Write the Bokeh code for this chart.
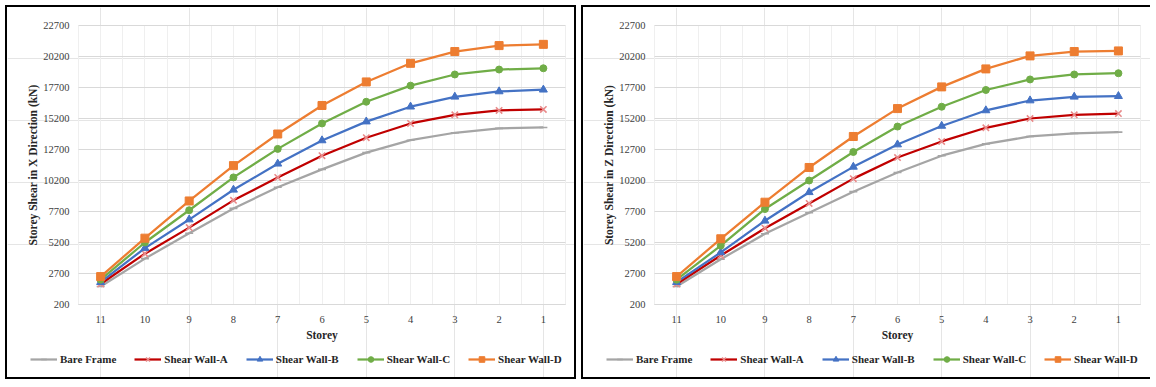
from bokeh.plotting import figure
from bokeh.layouts import row
from bokeh.models import Range1d, FixedTicker, Legend, LegendItem, LinearAxis, Grid
from bokeh.embed import file_html
from bokeh.resources import INLINE

storeys = ["11", "10", "9", "8", "7", "6", "5", "4", "3", "2", "1"]
y_ticks = [200, 2700, 5200, 7700, 10200, 12700, 15200, 17700, 20200, 22700]

series_names = ["Bare Frame", "Shear Wall-A", "Shear Wall-B", "Shear Wall-C", "Shear Wall-D"]

# X direction
bare_x = [1650, 3900, 5950, 7950, 9650, 11100, 12450, 13450, 14050, 14400, 14480]
wallA_x = [1850, 4300, 6400, 8600, 10450, 12200, 13650, 14800, 15500, 15850, 15930]
wallB_x = [2000, 4750, 7050, 9450, 11550, 13430, 14950, 16150, 16950, 17380, 17520]
wallC_x = [2200, 5200, 7800, 10450, 12750, 14800, 16550, 17850, 18750, 19150, 19250]
wallD_x = [2450, 5550, 8550, 11400, 13950, 16250, 18150, 19650, 20600, 21080, 21180]

# Z direction
bare_z = [1650, 3850, 5900, 7600, 9300, 10850, 12200, 13150, 13750, 14000, 14100]
wallA_z = [1850, 4150, 6350, 8350, 10350, 12050, 13350, 14450, 15200, 15500, 15600]
wallB_z = [2000, 4400, 6950, 9250, 11300, 13100, 14600, 15850, 16650, 16950, 17000]
wallC_z = [2200, 4950, 7900, 10200, 12500, 14550, 16150, 17500, 18350, 18750, 18850]
wallD_z = [2450, 5500, 8450, 11250, 13750, 16000, 17750, 19200, 20250, 20600, 20650]

colors = ["#A5A5A5", "#C00000", "#4472C4", "#70AD47", "#ED7D31"]
marker_line = ["#A5A5A5", "#E88A8A", "#4472C4", "#70AD47", "#ED7D31"]
markers = ["dash", "x", "triangle", "circle", "square"]
msizes = [8, 9, 8, 7, 8]

FONT = "Liberation Serif"

# panel geometry in pixels (plot area inside each bordered panel)
PANEL_H = 374
PLOT_TOP, PLOT_BOTTOM_GAP = 18, 77   # space above / below the plotting area


def make_panel(series, ytitle, width, pad_left, pad_right, styles):
    n = len(storeys)
    xs = list(range(n))
    plot_w = width - pad_left - pad_right
    plot_h = PANEL_H - PLOT_TOP - PLOT_BOTTOM_GAP
    px_x = n / plot_w
    px_y = (y_ticks[-1] - y_ticks[0]) / plot_h
    x_rng = Range1d(-0.5 - pad_left * px_x, n - 0.5 + pad_right * px_x)
    y_rng = Range1d(y_ticks[0] - PLOT_BOTTOM_GAP * px_y, y_ticks[-1] + PLOT_TOP * px_y)

    p = figure(width=width, height=PANEL_H, output_backend="svg", toolbar_location=None,
               x_range=x_rng, y_range=y_rng, x_axis_location=None, y_axis_location=None,
               min_border_left=0, min_border_right=0, min_border_top=0, min_border_bottom=0)
    p.outline_line_color = None
    p.background_fill_color = "white"
    p.border_fill_color = "white"
    p.margin = (5, 0, 0, 5)
    p.styles = styles

    xt = FixedTicker(ticks=xs, minor_ticks=[i + 0.5 for i in range(-1, n)])
    yt = FixedTicker(ticks=y_ticks)

    xg = Grid(dimension=0, ticker=xt, cross_bounds=(y_ticks[0], y_ticks[-1]),
              grid_line_color="#EFEFEF", minor_grid_line_color="#EFEFEF")
    yg = Grid(dimension=1, ticker=yt, cross_bounds=(-0.5, n - 0.5),
              grid_line_color="#D9D9D9", grid_line_width=1)
    p.add_layout(xg)
    p.add_layout(yg)

    xaxis = LinearAxis(ticker=xt, fixed_location=y_ticks[0], bounds=(-0.5, n - 0.5),
                       axis_label="Storey",
                       major_label_overrides={i: s for i, s in enumerate(storeys)})
    yaxis = LinearAxis(ticker=yt, fixed_location=-0.5, bounds=(y_ticks[0], y_ticks[-1]),
                       axis_label=ytitle)
    for ax in (xaxis, yaxis):
        ax.major_tick_line_color = None
        ax.minor_tick_line_color = None
        ax.major_label_text_font = FONT
        ax.major_label_text_font_size = "10.5px"
        ax.major_label_text_color = "#404040"
        ax.axis_label_text_font = FONT
        ax.axis_label_text_font_style = "bold"
        ax.axis_label_text_font_size = "11.5px"
        ax.axis_label_text_color = "#262626"
    xaxis.axis_line_color = "#D9D9D9"
    yaxis.axis_line_color = None
    xaxis.major_label_standoff = 5
    xaxis.axis_label_standoff = 3
    yaxis.major_label_standoff = 3
    yaxis.axis_label_standoff = 1
    p.add_layout(xaxis, "below")
    p.add_layout(yaxis, "left")

    items = []
    for name, vals, c, mc, m, ms in zip(series_names, series, colors, marker_line, markers, msizes):
        r1 = p.line(xs, vals, line_color=c, line_width=2.25)
        if m in ("x", "dash"):
            r2 = p.scatter(xs, vals, marker=m, size=ms, line_color=mc, line_width=1.6)
        else:
            r2 = p.scatter(xs, vals, marker=m, size=ms, line_color=c, fill_color=c)
        items.append(LegendItem(label=name, renderers=[r1, r2]))

    leg = Legend(items=items, orientation="horizontal", location=(23, 14),
                 glyph_width=27, glyph_height=14, label_standoff=3, spacing=18,
                 padding=0, margin=0, border_line_color=None, background_fill_alpha=0,
                 label_text_font=FONT, label_text_font_style="bold",
                 label_text_font_size="11px", label_text_color="#262626",
                 label_height=16)
    p.add_layout(leg, "center")
    return p


p1 = make_panel([bare_x, wallA_x, wallB_x, wallC_x, wallD_x],
                "Storey Shear in X Direction (kN)", 571, 71, 13,
                {"border": "2px solid #000000"})
p2 = make_panel([bare_z, wallA_z, wallB_z, wallC_z, wallD_z],
                "Storey Shear in Z Direction (kN)", 569, 71, 12,
                {"border-top": "2px solid #000000", "border-left": "2px solid #000000",
                 "border-bottom": "2px solid #000000"})

layout = row(p1, p2)
open("out.html", "w").write(file_html(layout, INLINE))
